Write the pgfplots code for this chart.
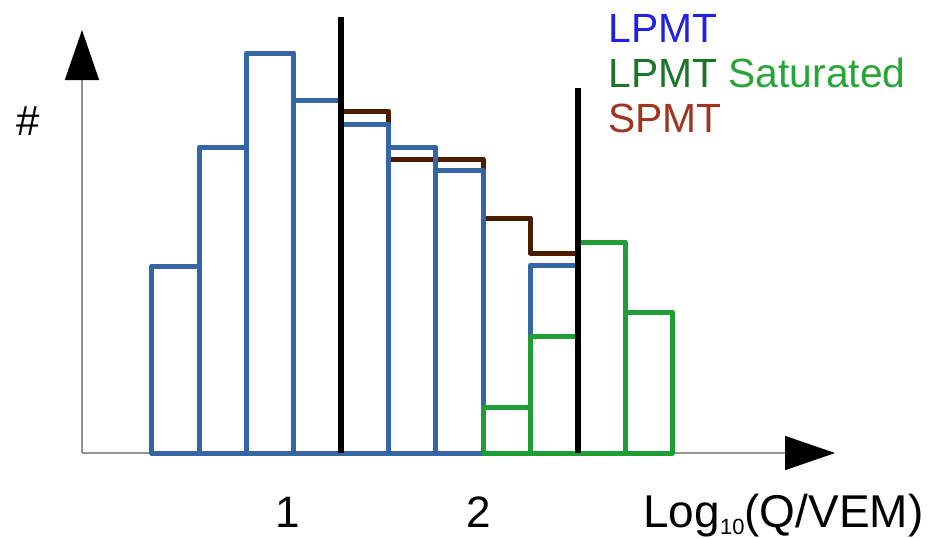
\documentclass[border=0pt]{standalone}
\usepackage{fontspec}
\setmainfont{Liberation Sans}
\usepackage{pgfplots}
\pgfplotsset{compat=1.18}
\usetikzlibrary{arrows.meta}
\definecolor{barblue}{HTML}{3465A4}
\definecolor{bargreen}{HTML}{1E9E34}
\definecolor{barbrown}{HTML}{4C1C00}
\definecolor{lblue}{HTML}{2222DD}
\definecolor{dkgreen}{HTML}{1B742A}
\definecolor{ltgreen}{HTML}{27A637}
\definecolor{lbrown}{HTML}{9E3520}
\begin{document}
\begin{tikzpicture}
\begin{axis}[
  scale only axis, width=376.5pt, height=211.5pt,
  xmin=-1.48, xmax=14.44, ymin=0, ymax=423,
  axis lines=left,
  axis line style={draw=gray!85, line width=0.75pt},
  x axis line style={-{Triangle[length=25pt,width=17pt,color=black]}},
  y axis line style={-{Triangle[length=25pt,width=17pt,color=black]}},
  xtick={2.875,6.91}, xticklabels={1,2}, ytick=\empty,
  major tick length=0pt,
  xticklabel style={anchor=base, yshift=-37pt, font=\fontsize{22}{26}\selectfont},
  /pgf/number format/assume math mode=true,
  clip=false,
  font=\fontsize{20.4}{24}\selectfont,
]
% SPMT step outline
\addplot[barbrown, line width=2.5pt, const plot, line join=round] coordinates {(4,342)(5,294)(7,235)(8,200)(9,200)};
% LPMT bars
\addplot[ybar interval, draw=barblue, fill=none, line width=2.5pt, line join=round] coordinates {(0,187)(1,306)(2,400)(3,353)(4,329)(5,306)(6,283)(7,0)(8,188)(9,188)};
% LPMT saturated bars
\addplot[ybar interval, draw=bargreen, fill=none, line width=2.5pt, line join=round] coordinates {(7,46)(8,117)(9,211)(10,141)(11,141)};
% thresholds
\addplot[black, line width=3pt] coordinates {(4,0)(4,436)};
\addplot[black, line width=3pt] coordinates {(9,0)(9,365)};
% labels
\node[anchor=base west, inner sep=0, text=lblue] at (axis cs:9.64,411) {LPMT};
\node[anchor=base west, inner sep=0] at (axis cs:9.64,366) {\textcolor{dkgreen}{LPMT} \textcolor{ltgreen}{Saturated}};
\node[anchor=base west, inner sep=0, text=lbrown] at (axis cs:9.64,321) {SPMT};
\node[anchor=base, inner sep=0, font=\fontsize{21}{25}\selectfont] at (axis cs:-2.62,318) {\#};
\node[anchor=base west, inner sep=0, font=\fontsize{23}{27}\selectfont] at (axis cs:10.38,-74) {Log\raisebox{-3.5pt}{\fontsize{11}{13}\selectfont 10}(Q/VEM)};
\coordinate (bl) at (axis cs:-3.2135,-84);
\coordinate (tr) at (axis cs:16.448,453);
\end{axis}
\pgfresetboundingbox
\useasboundingbox (bl) rectangle (tr);
\end{tikzpicture}
\end{document}
